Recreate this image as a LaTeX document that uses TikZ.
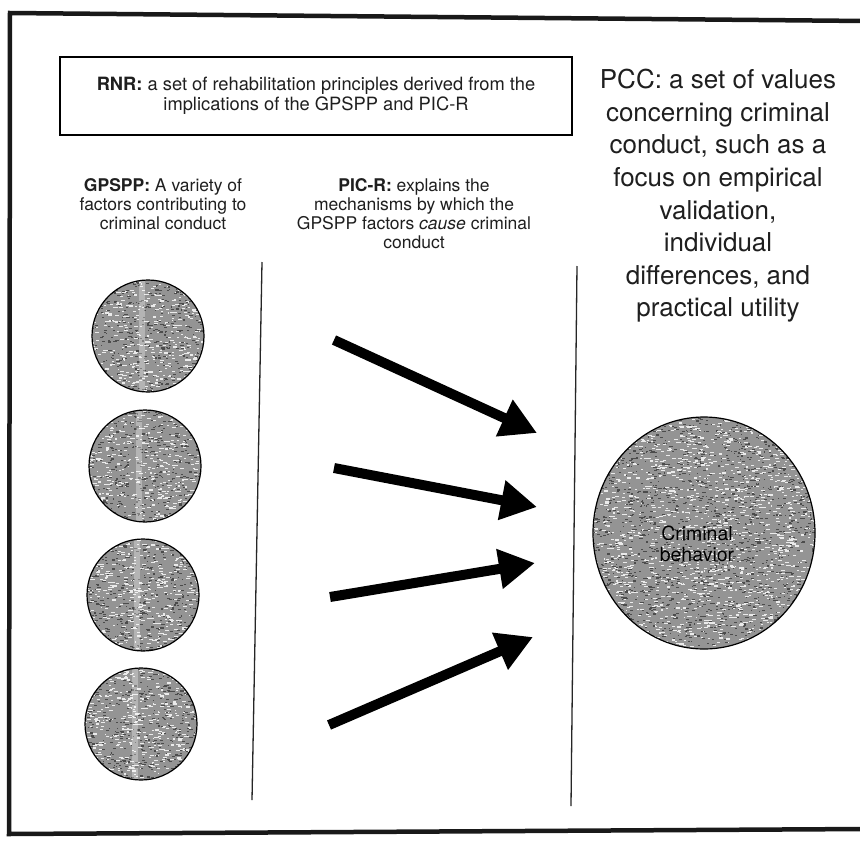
\documentclass[tikz,border=0pt]{standalone}
\usepackage{fontspec}
\setmainfont{TeX Gyre Heros}
\usetikzlibrary{arrows.meta,shapes.geometric}
\newcommand\grainfill[3]{%
  \begin{scope}[shift={(path picture bounding box.center)}]
    \fill[black!42] (-#1,-#1) rectangle (#1,#1);
    \foreach \k in {1,...,#2}{%
      \pgfmathsetmacro\px{rand*#1}\pgfmathsetmacro\py{rand*#1}%
      \pgfmathsetmacro\pw{1.5+3*rnd}%
      \fill[black!8] (\px,\py) rectangle ++(\pw,1.1);
      \pgfmathsetmacro\qx{rand*#1}\pgfmathsetmacro\qy{rand*#1}%
      \pgfmathsetmacro\qw{1+2.5*rnd}%
      \fill[black!70] (\qx,\qy) rectangle ++(\qw,1.1);
    }
    \ifnum#3=1 \fill[white,opacity=.3] (-9,-#1) rectangle (-3,#1);\fi
  \end{scope}}
\tikzset{
  frameline/.style={line width=4.5pt, black!90},
  rnrbox/.style={draw, line width=1.4pt, minimum width=512pt, minimum height=78pt, inner sep=0pt,
    align=center, font=\fontsize{18.3}{19.5}\selectfont, text=black!88},
  smalltext/.style={align=center, font=\fontsize{17.5}{19}\selectfont, text=black!88},
  pcctext/.style={align=center, font=\fontsize{26}{32.6}\selectfont, text=black!88},
  divider/.style={line width=1.3pt, black!85},
  factor/.style={circle, draw, line width=1.2pt, minimum size=112pt, inner sep=0pt,
    path picture={\grainfill{60}{500}{1}}},
  outcome/.style={ellipse, draw, line width=1.2pt, minimum width=222pt, minimum height=232pt, inner sep=0pt,
    path picture={\grainfill{120}{1900}{0}}},
  bigarrow/.style={line width=10pt, black, -{Triangle[length=36pt,width=38pt]}},
  outcometext/.style={align=center, font=\fontsize{19.5}{21}\selectfont, text=black}
}
\begin{document}
\begin{tikzpicture}[x=1pt,y=-1pt]
\pgfmathsetseed{11}
\useasboundingbox (0,0) rectangle (860,844);
\fill[white] (0,0) rectangle (860,844);
% outer frame (right side is cut off)
\coordinate (fr1) at (866,21);
\coordinate (fr2) at (10,13);
\coordinate (fr3) at (9,834);
\coordinate (fr4) at (866,829);
\draw[frameline, line join=miter] (fr1) -- (fr2) -- (fr3) -- (fr4);

% RNR box
\node[rnrbox] (rnr) at (316,96) {\textbf{RNR:} a set of rehabilitation principles derived from the\\implications of the GPSPP and PIC-R};

% PCC text
\node[pcctext] (pcc) at (718,196) {PCC: a set of values\\concerning criminal\\conduct, such as a\\focus on empirical\\validation,\\individual\\differences, and\\practical utility};

% column headings
\node[smalltext] (gpspp) at (163,204) {\textbf{GPSPP:} A variety of\\factors contributing to\\criminal conduct};
\node[smalltext] (picr) at (414,214) {\textbf{PIC-R:} explains the\\mechanisms by which the\\GPSPP factors \textit{cause} criminal\\conduct};

% dividers
\coordinate (d1t) at (262,262);
\coordinate (d1b) at (252,800);
\coordinate (d2t) at (577,266);
\coordinate (d2b) at (571,806);
\draw[divider] (d1t) -- (d1b);
\draw[divider] (d2t) -- (d2b);

% factor circles
\node[factor] (f1) at (148,336) {};
\node[factor] (f2) at (145,466) {};
\node[factor] (f3) at (143,595) {};
\node[factor] (f4) at (141,724) {};

% outcome
\node[outcome] (cb) at (704,533) {};
\node[outcometext] (cbt) at (697,544) {Criminal\\behavior};

% arrows
\coordinate (a1s) at (334,340);
\coordinate (a1e) at (537,433);
\coordinate (a2s) at (334,468);
\coordinate (a2e) at (537,507);
\coordinate (a3s) at (330,597);
\coordinate (a3e) at (535,563);
\coordinate (a4s) at (329,725);
\coordinate (a4e) at (533,637);
\draw[bigarrow] (a1s) -- (a1e);
\draw[bigarrow] (a2s) -- (a2e);
\draw[bigarrow] (a3s) -- (a3e);
\draw[bigarrow] (a4s) -- (a4e);
\end{tikzpicture}
\end{document}
